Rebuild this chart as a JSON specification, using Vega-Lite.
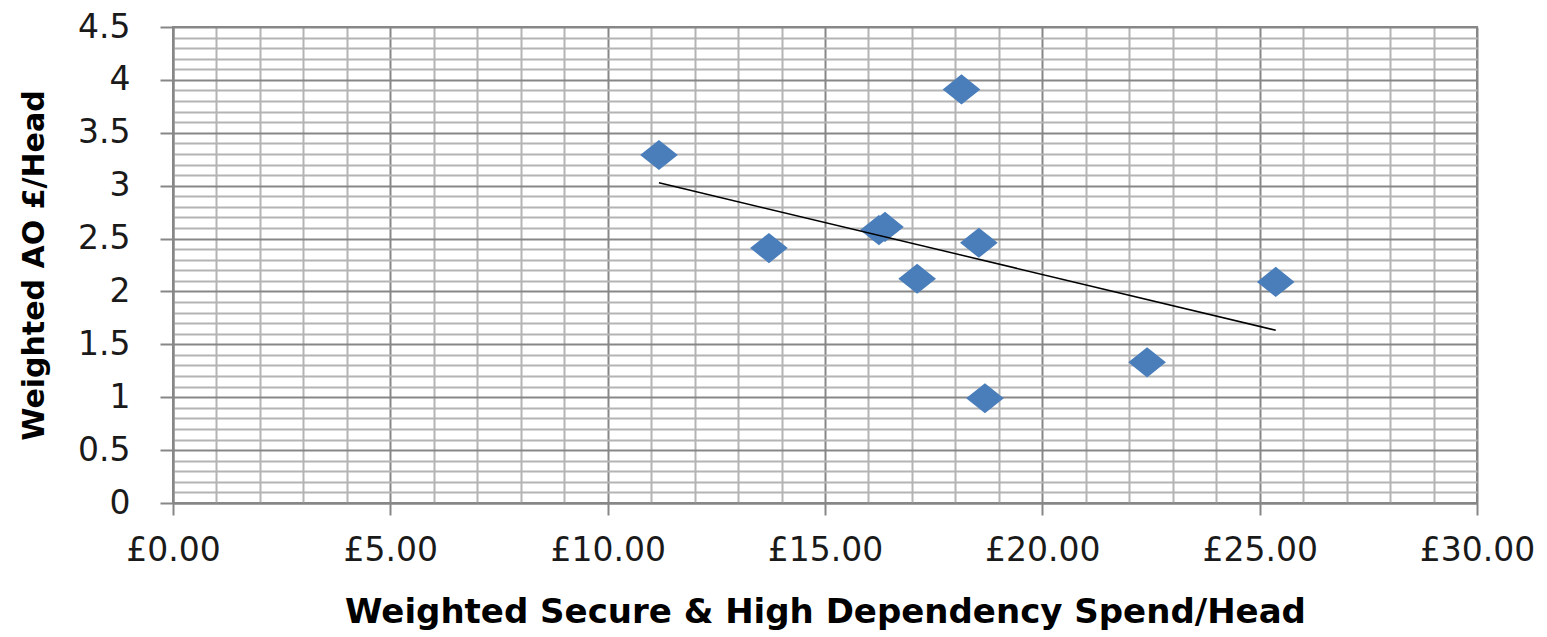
{
  "$schema": "https://vega.github.io/schema/vega-lite/v6.json",
  "width": 1304,
  "height": 476,
  "autosize": "none",
  "padding": {"left": 173, "top": 27, "right": 70, "bottom": 134},
  "background": "white",
  "config": {"view": {"stroke": "#878787", "strokeWidth": 2}},
  "data": {
    "values": [
      {"spend": 11.18, "ao": 3.29},
      {"spend": 13.71, "ao": 2.41},
      {"spend": 16.24, "ao": 2.58},
      {"spend": 16.38, "ao": 2.61},
      {"spend": 17.12, "ao": 2.12},
      {"spend": 18.14, "ao": 3.91},
      {"spend": 18.54, "ao": 2.46},
      {"spend": 18.68, "ao": 0.99},
      {"spend": 22.41, "ao": 1.33},
      {"spend": 25.37, "ao": 2.09}
    ]
  },
  "encoding": {
    "x": {
      "field": "spend",
      "type": "quantitative",
      "scale": {"domain": [0, 30], "nice": false, "zero": false},
      "axis": {
        "values": [0,1,2,3,4,5,6,7,8,9,10,11,12,13,14,15,16,17,18,19,20,21,22,23,24,25,26,27,28,29,30],
        "labelExpr": "datum.value % 5 === 0 ? '£' + format(datum.value, '.2f') : ''",
        "labelOverlap": false,
        "labelBound": false,
        "labelFlush": false,
        "labelFont": "DejaVu Sans",
        "labelFontSize": 33,
        "labelColor": "#1a1a1a",
        "labelPadding": 19,
        "grid": true,
        "gridColor": {"condition": {"test": "datum.value % 5 === 0", "value": "#878787"}, "value": "#b4b4b4"},
        "gridWidth": 2,
        "tickSize": 12,
        "tickWidth": 2,
        "tickColor": "#878787",
        "tickOpacity": {"condition": {"test": "datum.value % 5 === 0", "value": 1}, "value": 0},
        "domainColor": "#878787",
        "domainWidth": 2,
        "title": "Weighted Secure & High Dependency Spend/Head",
        "titleFont": "DejaVu Sans",
        "titleFontWeight": "bold",
        "titleFontSize": 34,
        "titleColor": "#000000",
        "titleBaseline": "middle",
        "titleX": 652,
        "titleY": 109
      }
    },
    "y": {
      "field": "ao",
      "type": "quantitative",
      "scale": {"domain": [0, 4.5], "nice": false, "zero": false},
      "axis": {
        "values": [0,0.1,0.2,0.3,0.4,0.5,0.6,0.7,0.8,0.9,1,1.1,1.2,1.3,1.4,1.5,1.6,1.7,1.8,1.9,2,2.1,2.2,2.3,2.4,2.5,2.6,2.7,2.8,2.9,3,3.1,3.2,3.3,3.4,3.5,3.6,3.7,3.8,3.9,4,4.1,4.2,4.3,4.4,4.5],
        "labelExpr": "abs(datum.value*2 - round(datum.value*2)) < 0.001 ? format(datum.value, '~g') : ''",
        "labelOverlap": false,
        "labelBound": false,
        "labelFlush": false,
        "labelFont": "DejaVu Sans",
        "labelFontSize": 33,
        "labelColor": "#1a1a1a",
        "labelPadding": 30,
        "grid": true,
        "gridColor": {"condition": {"test": "abs(datum.value*2 - round(datum.value*2)) < 0.001", "value": "#878787"}, "value": "#b4b4b4"},
        "gridWidth": 2,
        "tickSize": 13,
        "tickWidth": 2,
        "tickColor": "#878787",
        "tickOpacity": {"condition": {"test": "abs(datum.value*2 - round(datum.value*2)) < 0.001", "value": 1}, "value": 0},
        "domainColor": "#878787",
        "domainWidth": 2,
        "title": "Weighted AO £/Head",
        "titleFont": "DejaVu Sans",
        "titleFontWeight": "bold",
        "titleFontSize": 30,
        "titleColor": "#000000",
        "titleBaseline": "middle",
        "titleAlign": "center",
        "titleX": -139,
        "titleY": 238
      }
    }
  },
  "layer": [
    {
      "mark": {
        "type": "point",
        "shape": "M-1,0L0,-0.8L1,0L0,0.8Z",
        "filled": true,
        "color": "#4a7ebb",
        "opacity": 1,
        "size": 1420
      }
    },
    {
      "transform": [{"regression": "ao", "on": "spend"}],
      "mark": {"type": "line", "color": "#000000", "strokeWidth": 1.5}
    }
  ]
}
